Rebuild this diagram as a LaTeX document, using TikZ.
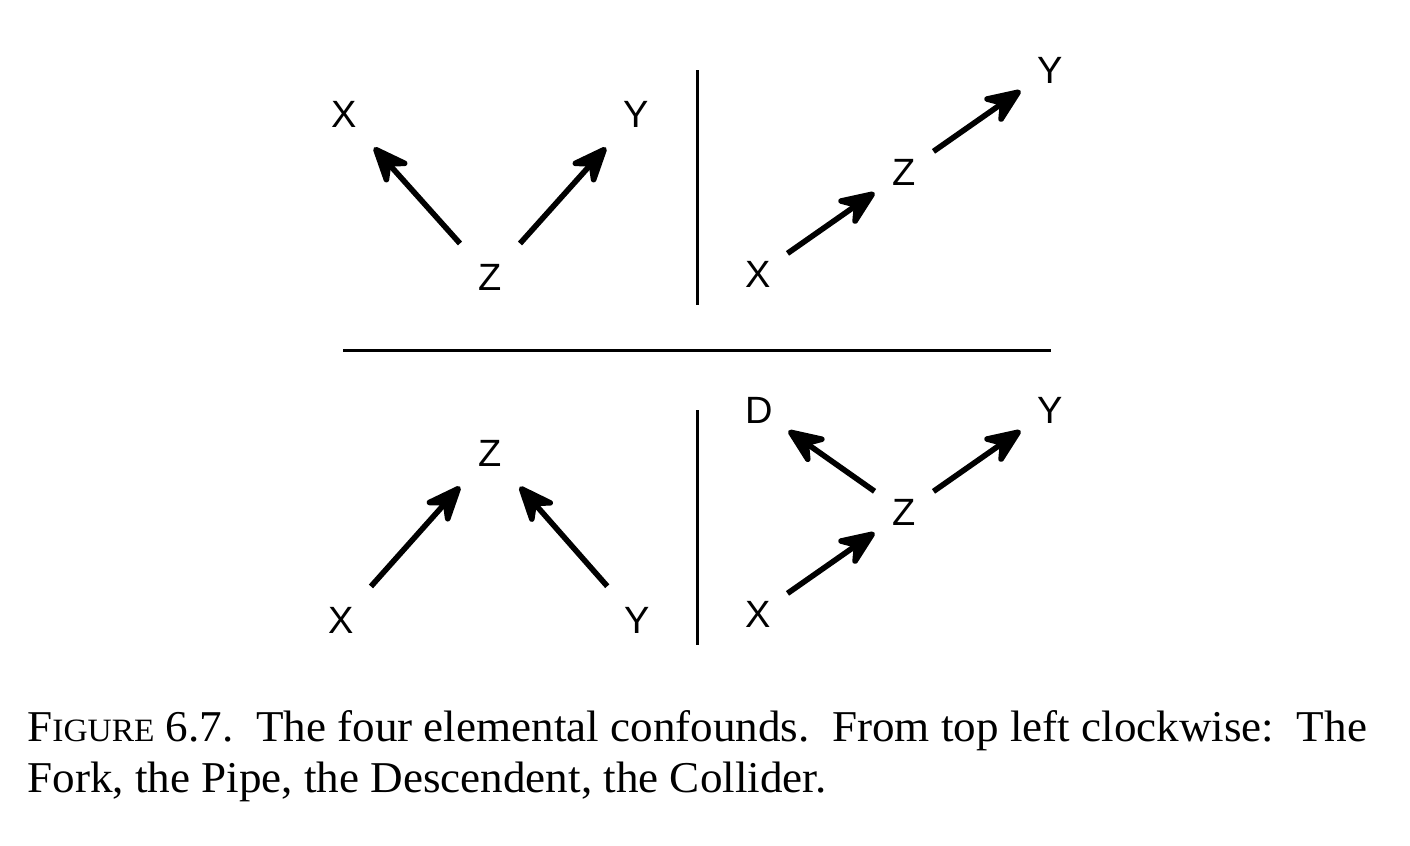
\documentclass[tikz,border=0pt]{standalone}
\usepackage{fontspec}
\setmainfont{Liberation Sans}
\newfontfamily\capfont[FakeStretch=1.025]{Liberation Serif}
\usetikzlibrary{arrows.meta}
\begin{document}
\begin{tikzpicture}[x=0.5pt,y=-0.5pt,
  lab/.style={font=\fontsize{19}{22}\selectfont, inner sep=0pt},
  arr/.style={line width=2.8pt, -{Stealth[length=23pt,width=19pt,inset=8pt,round]}},
  farsh/.style={shorten <=22.5pt, shorten >=22.5pt},
  nearsh/.style={shorten <=18pt, shorten >=18pt},
  divider/.style={line width=1.5pt},
  captext/.style={anchor=base west, inner sep=0pt, font=\capfont\fontsize{22}{26}\selectfont}]
\useasboundingbox (0,0) rectangle (1410,846);
% top left: fork
\node[lab] (fx) at (344,114) {X};
\node[lab] (fy) at (636,114) {Y};
\node[lab] (fz) at (490,277) {Z};
\draw[arr,farsh] (fz.center) -- (fx.center);
\draw[arr,farsh] (fz.center) -- (fy.center);
% top right: pipe
\node[lab] (px) at (758,274) {X};
\node[lab] (pz) at (904,172) {Z};
\node[lab] (py) at (1050,70) {Y};
\draw[arr,nearsh] (px.center) -- (pz.center);
\draw[arr,nearsh] (pz.center) -- (py.center);
% bottom left: collider
\node[lab] (cz) at (490,453) {Z};
\node[lab] (cx) at (341,620) {X};
\node[lab] (cy) at (637,620) {Y};
\draw[arr,farsh] (cx.center) -- (cz.center);
\draw[arr,farsh] (cy.center) -- (cz.center);
% bottom right: descendant
\node[lab] (dd) at (759,410) {D};
\node[lab] (dy) at (1050,410) {Y};
\node[lab] (dz) at (904,512) {Z};
\node[lab] (dx) at (758,614) {X};
\draw[arr,nearsh] (dz.center) -- (dd.center);
\draw[arr,nearsh] (dz.center) -- (dy.center);
\draw[arr,nearsh] (dx.center) -- (dz.center);
% dividers
\coordinate (vat) at (697,70);
\coordinate (vab) at (697,305);
\coordinate (hl) at (343,350);
\coordinate (hr) at (1051,350);
\coordinate (vbt) at (697,410);
\coordinate (vbb) at (697,645);
\draw[divider] (vat) -- (vab);
\draw[divider] (hl) -- (hr);
\draw[divider] (vbt) -- (vbb);
% caption
\node[captext] (cap1) at (27,741) {F{\fontsize{16.3}{20}\selectfont IGURE} 6.7.\ \ The four elemental confounds.\ \ From top left clockwise:\ \ The};
\node[captext] (cap2) at (27,792) {Fork, the Pipe, the Descendent, the Collider.};
\end{tikzpicture}
\end{document}
